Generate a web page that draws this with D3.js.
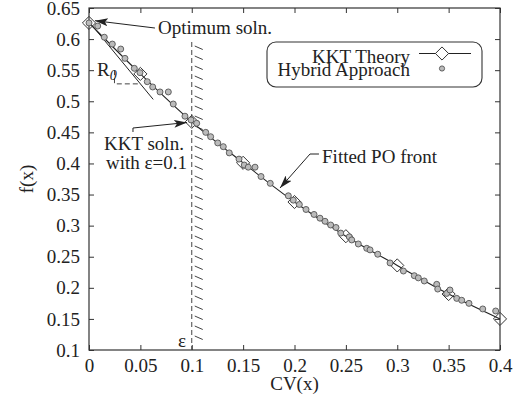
<!DOCTYPE html>
<html>
<head>
<meta charset="utf-8">
<script src="https://cdn.jsdelivr.net/npm/d3@7"></script>
<style>
  body { margin: 0; background: #fff; }
  svg text { font-family: "Liberation Serif", "Times New Roman", serif; fill: #222; }
</style>
</head>
<body>
<svg id="chart" width="525" height="405"></svg>
<script>
// KKT theory points (diamonds) at fixed epsilon values
var kktCV = [0, 0.05, 0.1, 0.15, 0.2, 0.25, 0.3, 0.35, 0.4]
var kktF  = [0.626, 0.544, 0.467, 0.401, 0.338, 0.283, 0.236, 0.19, 0.15]

// hybrid approach points (grey circles)
var hybCV = [0, 0.0085, 0.0149, 0.0227, 0.0309, 0.035, 0.0441, 0.0496, 0.0567, 0.062,
  0.0691, 0.0772, 0.082, 0.0934, 0.0993, 0.1048, 0.1136, 0.1184, 0.1253, 0.1307,
  0.1365, 0.146, 0.1511, 0.155, 0.1616, 0.1674, 0.1764, 0.194, 0.1988, 0.2047,
  0.2112, 0.219, 0.2248, 0.2297, 0.2352, 0.2404, 0.245, 0.2533, 0.2557, 0.2621,
  0.2703, 0.2735, 0.281, 0.293, 0.306, 0.3166, 0.3205, 0.3263, 0.3384, 0.3394,
  0.3481, 0.3513, 0.3579, 0.3627, 0.3698, 0.3832, 0.3958]
var hybF = [0.626, 0.621, 0.603, 0.592, 0.584, 0.569, 0.553, 0.546, 0.5315, 0.523,
  0.515, 0.515, 0.4956, 0.476, 0.47, 0.4646, 0.45, 0.443, 0.433, 0.427,
  0.417, 0.407, 0.3975, 0.394, 0.394, 0.379, 0.368, 0.348, 0.341, 0.334,
  0.326, 0.318, 0.312, 0.307, 0.301, 0.297, 0.288, 0.282, 0.277, 0.2705,
  0.2635, 0.261, 0.254, 0.24, 0.227, 0.2195, 0.216, 0.211, 0.2056, 0.198,
  0.191, 0.1965, 0.183, 0.18, 0.175, 0.166, 0.1627]

var xTicks = [0, 0.05, 0.1, 0.15, 0.2, 0.25, 0.3, 0.35, 0.4]
var yTicks = [0.1, 0.15, 0.2, 0.25, 0.3, 0.35, 0.4, 0.45, 0.5, 0.55, 0.6, 0.65]

var epsilon = 0.1
// tangent (R0) line and its dashed box, in data units
var tangentCV = [0.003, 0.0625]
var tangentF  = [0.622, 0.503]
var boxCV = [0.0248, 0.0248, 0.0496]
var boxF  = [0.550, 0.528, 0.528]

var svg = d3.select("#chart")
var plotL = 89, plotR = 500, plotT = 8, plotB = 350
var xScale = d3.scaleLinear().domain([0, 0.4]).range([plotL, plotR])
var yScale = d3.scaleLinear().domain([0.1, 0.65]).range([plotB, plotT])
var fmt = d3.format(".2~f")
var fontSize = 19
var serif = '"Liberation Serif", "Times New Roman", serif'

// axes with inward ticks on all four sides
svg.append("g")
  .attr("transform", "translate(0," + plotB + ")")
  .call(d3.axisBottom(xScale).tickValues(xTicks).tickFormat(fmt).tickSize(-5).tickPadding(9))
svg.append("g")
  .attr("transform", "translate(0," + plotT + ")")
  .call(d3.axisTop(xScale).tickValues(xTicks).tickFormat("").tickSize(-5))
svg.append("g")
  .attr("transform", "translate(" + plotL + ",0)")
  .call(d3.axisLeft(yScale).tickValues(yTicks).tickFormat(fmt).tickSize(-5).tickPadding(9))
svg.append("g")
  .attr("transform", "translate(" + plotR + ",0)")
  .call(d3.axisRight(yScale).tickValues(yTicks).tickFormat("").tickSize(-5))

svg.selectAll(".domain").remove()
svg.selectAll(".tick line").attr("stroke", "#333")
svg.selectAll(".tick text")
  .style("font-family", serif)
  .style("font-size", fontSize + "px")
  .attr("fill", "#222")

svg.append("rect")
  .attr("x", plotL).attr("y", plotT)
  .attr("width", plotR - plotL).attr("height", plotB - plotT)
  .attr("fill", "none").attr("stroke", "#333").attr("stroke-width", 1.2)

function txt(parent, x, y, str) {
  return parent.append("text")
    .attr("x", x).attr("y", y)
    .style("font-family", serif)
    .style("font-size", fontSize + "px")
    .text(str)
}

// axis titles
txt(svg, (plotL + plotR) / 2, 390, "CV(x)").attr("text-anchor", "middle")
txt(svg, 0, 0, "f(x)")
  .attr("transform", "translate(33," + (plotT + plotB) / 2 + ") rotate(-90)")
  .attr("text-anchor", "middle")

// epsilon constraint: dashed line with hatching
var epsX = xScale(epsilon)
svg.append("line")
  .attr("x1", epsX).attr("x2", epsX)
  .attr("y1", 42).attr("y2", plotB)
  .attr("stroke", "#444").attr("stroke-width", 1)
  .attr("stroke-dasharray", "5,3")
var hatchY = d3.range(46, 340, 10)
svg.selectAll(".hatch")
  .data(hatchY)
  .join("line")
  .attr("class", "hatch")
  .attr("x1", epsX + 3).attr("y1", d => d)
  .attr("x2", epsX + 11).attr("y2", d => d + 3.5)
  .attr("stroke", "#444").attr("stroke-width", 1)

// R0 tangent + dashed box
svg.append("line")
  .attr("x1", xScale(tangentCV[0])).attr("y1", yScale(tangentF[0]))
  .attr("x2", xScale(tangentCV[1])).attr("y2", yScale(tangentF[1]))
  .attr("stroke", "#222").attr("stroke-width", 1)
svg.append("path")
  .attr("d", d3.line()(boxCV.map((c, i) => [xScale(c), yScale(boxF[i])])))
  .attr("fill", "none").attr("stroke", "#444").attr("stroke-dasharray", "5,3")

// fitted front through KKT points
var kkt = kktCV.map((c, i) => ({ x: c, y: kktF[i] }))
var hyb = hybCV.map((c, i) => ({ x: c, y: hybF[i] }))
svg.append("path")
  .datum(kkt)
  .attr("d", d3.line().x(d => xScale(d.x)).y(d => yScale(d.y)).curve(d3.curveMonotoneX))
  .attr("fill", "none").attr("stroke", "#222").attr("stroke-width", 1.1)

var diamond = d3.symbol().type(d3.symbolDiamond2).size(110)
svg.selectAll(".kkt")
  .data(kkt)
  .join("path")
  .attr("class", "kkt")
  .attr("d", diamond)
  .attr("transform", d => "translate(" + xScale(d.x) + "," + yScale(d.y) + ")")
  .attr("fill", "none").attr("stroke", "#333").attr("stroke-width", 1)

svg.selectAll(".hyb")
  .data(hyb)
  .join("circle")
  .attr("class", "hyb")
  .attr("cx", d => xScale(d.x)).attr("cy", d => yScale(d.y))
  .attr("r", 3)
  .attr("fill", "#bbb").attr("stroke", "#555").attr("stroke-width", 0.9)

// arrowhead marker
svg.append("defs").append("marker")
  .attr("id", "head")
  .attr("markerUnits", "userSpaceOnUse")
  .attr("markerWidth", 14).attr("markerHeight", 10)
  .attr("refX", 13).attr("refY", 4)
  .attr("orient", "auto")
  .append("path")
  .attr("d", "M0,0 L13,4 L0,8 L3,4 Z")
  .attr("fill", "#222")

function arrow(pts) {
  svg.append("path")
    .attr("d", d3.line()(pts.map(p => [xScale(p[0]), yScale(p[1])])))
    .attr("fill", "none").attr("stroke", "#222").attr("stroke-width", 1)
    .attr("marker-end", "url(#head)")
}
function label(cv, f, str) {
  return txt(svg, xScale(cv), yScale(f), str)
}

arrow([[0.0642, 0.6178], [0.0058, 0.6296]])
label(0.0672, 0.6082, "Optimum soln.")

arrow([[0.0428, 0.4506], [0.0428, 0.457], [0.0954, 0.4659]])
label(0.0146, 0.4216, "KKT soln.")
label(0.0165, 0.3911, "with \u03b5=0.1")

arrow([[0.2238, 0.4152], [0.2151, 0.4152], [0.1859, 0.3605]])
label(0.2268, 0.4007, "Fitted PO front")

label(0.0866, 0.1048, "\u03b5")

var r0 = label(0.0078, 0.5406, "R")
r0.append("tspan")
  .attr("dy", 4)
  .style("font-size", "14px")
  .style("font-style", "italic")
  .text("0")

// legend
var legend = svg.append("g")
legend.append("rect")
  .attr("x", 267).attr("y", 42)
  .attr("width", 215).attr("height", 45)
  .attr("rx", 9)
  .attr("fill", "#fff").attr("stroke", "#333").attr("stroke-width", 1.1)
txt(legend, 410, 62.5, "KKT Theory").attr("text-anchor", "end")
txt(legend, 410, 76, "Hybrid Approach").attr("text-anchor", "end")
legend.append("line")
  .attr("x1", 419).attr("x2", 471).attr("y1", 53.5).attr("y2", 53.5)
  .attr("stroke", "#222").attr("stroke-width", 1.2)
legend.append("path")
  .attr("d", diamond)
  .attr("transform", "translate(442,53.5)")
  .attr("fill", "#fff").attr("stroke", "#333")
legend.append("circle")
  .attr("cx", 442).attr("cy", 68.5).attr("r", 2.6)
  .attr("fill", "#bbb").attr("stroke", "#555").attr("stroke-width", 0.9)
</script>
</body>
</html>
